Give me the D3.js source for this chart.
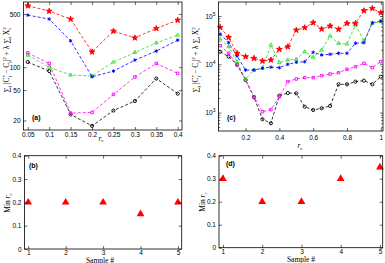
<!DOCTYPE html>
<html>
<head>
<meta charset="utf-8">
<script src="https://cdn.jsdelivr.net/npm/d3@7"></script>
<style>
  body { margin: 0; background: #fff; }
  svg { display: block; }
  .tick text { font-family: "Liberation Sans", Arial, sans-serif; font-size: 6.5px; fill: #000; }
  .lab { font-family: "Liberation Serif", "Times New Roman", serif; font-size: 7.5px; fill: #000; }
  .plab { font-family: "Liberation Sans", Arial, sans-serif; font-size: 7px; font-weight: bold; }
</style>
</head>
<body>
<div id="chart"></div>
<script>
// panel (a): r_c sweep
const rcA = [0.05, 0.1, 0.15, 0.2, 0.25, 0.3, 0.35, 0.4];
const redA = [640, 545, 428, 159, 298, 243, 323, 415];
const blueA = [483, 428, 222, 75, 89, 124, 163, 227];
const greenA = [144, 100, 79, 77, 117, 156, 209, 264];
const magentaA = [154, 112, 25, 25.5, 44, 74.5, 112, 83];
const blackA = [117, 89, 24, 17, 27, 36, 71, 45];
const ticksXA = [0.05, 0.1, 0.15, 0.2, 0.25, 0.3, 0.35, 0.4];
const ticksYA = [20, 50, 100, 500];

// panel (c): r_c sweep
const rcC = [0.05, 0.1, 0.15, 0.2, 0.25, 0.3, 0.35, 0.4, 0.45, 0.5,
             0.55, 0.6, 0.65, 0.7, 0.75, 0.8, 0.85, 0.9, 0.95, 1.0];
const redC = [58000, 36000, 16900, 14400, 13300, 11700, 12300, 20400, 23100, 51000,
              57300, 72600, 53700, 62100, 53100, 70600, 70600, 129000, 144000, 117000];
const blueC = [42300, 28000, 14800, 7600, 7600, 8300, 8700, 8500, 10000, 11000,
               11300, 17700, 15600, 16100, 16900, 16900, 27200, 28000, 72600, 78700];
const greenC = [33400, 23100, 11300, 4900, 7600, 8300, 25100, 10800, 12300, 12700,
                18200, 14000, 19800, 38500, 27200, 26300, 65200, 30800, 70000, 76000];
const magentaC = [24300, 16900, 9700, 4700, 2130, 1040, 1150, 2130, 4370, 4960,
                  5290, 5290, 5800, 6290, 6700, 7870, 8910, 10500, 8510, 11300];
const blackC = [18200, 14400, 9800, 4730, 2080, 726, 600, 2240, 2540, 2500,
                1320, 1130, 1230, 1370, 3850, 3850, 4370, 4580, 3850, 5530];
const ticksXC = [0.2, 0.4, 0.6, 0.8, 1];
const ticksYC = [1000, 10000, 100000];

// panels (b) and (d)
const samples = [1, 2, 3, 4, 5];
const minRcB = [0.2, 0.2, 0.2, 0.15, 0.2];
const minRcD = [0.3, 0.2, 0.2, 0.3, 0.35];
const ticksYMin = [0, 0.1, 0.2, 0.3, 0.4];

const width = 385, height = 263;

const svg = d3.select("#chart").append("svg")
    .attr("width", width)
    .attr("height", height);

// draws box with inward ticks on all four sides
function drawFrame(x, y, xt, yt, opts) {
    const [x0, x1] = x.range();
    const [y1, y0] = y.range();
    const tick = 3;
    svg.append("g")
        .attr("transform", `translate(0,${y1})`)
        .call(d3.axisBottom(x).tickValues(xt).tickSizeInner(-tick).tickSizeOuter(0)
            .tickPadding(opts.xPad || 2).tickFormat(d => d))
        .call(g => g.select(".domain").remove());
    svg.append("g")
        .attr("transform", `translate(0,${y0})`)
        .call(d3.axisTop(x).tickValues(xt).tickSizeInner(-tick).tickSizeOuter(0).tickFormat(""))
        .call(g => g.select(".domain").remove());
    const left = svg.append("g")
        .attr("transform", `translate(${x0},0)`)
        .call(d3.axisLeft(y).tickValues(yt).tickSizeInner(-tick).tickSizeOuter(0)
            .tickPadding(3).tickFormat(d => d))
        .call(g => g.select(".domain").remove());
    svg.append("g")
        .attr("transform", `translate(${x1},0)`)
        .call(d3.axisRight(y).tickValues(yt).tickSizeInner(-tick).tickSizeOuter(0).tickFormat(""))
        .call(g => g.select(".domain").remove());
    if (opts.minor) {
        svg.append("g")
            .attr("transform", `translate(${x0},0)`)
            .call(d3.axisLeft(y).tickValues(opts.minor).tickSizeInner(-1.8).tickSizeOuter(0).tickFormat(""))
            .call(g => g.select(".domain").remove());
        svg.append("g")
            .attr("transform", `translate(${x1},0)`)
            .call(d3.axisRight(y).tickValues(opts.minor).tickSizeInner(-1.8).tickSizeOuter(0).tickFormat(""))
            .call(g => g.select(".domain").remove());
    }
    if (opts.pow) {
        left.selectAll(".tick text").each(function(d) {
            const t = d3.select(this).text("10");
            t.append("tspan").attr("dy", -3).attr("font-size", 5).text(Math.round(Math.log10(d)));
        });
    }
    svg.selectAll(".tick line").attr("stroke", "#000").attr("stroke-width", 0.6);
    svg.append("rect")
        .attr("x", x0).attr("y", y0)
        .attr("width", x1 - x0).attr("height", y1 - y0)
        .attr("fill", "none").attr("stroke", "#000").attr("stroke-width", 0.8);
}

function drawSeries(g, x, y, xs, ys, st) {
    const pts = xs.map((v, i) => [v, ys[i]]);
    g.append("path")
        .datum(pts)
        .attr("fill", "none")
        .attr("stroke", st.color)
        .attr("stroke-width", 0.8)
        .attr("stroke-dasharray", "3,2")
        .attr("d", d3.line().x(d => x(d[0])).y(d => y(d[1])));
    g.selectAll(null).data(pts).enter().append("path")
        .attr("transform", d => `translate(${x(d[0])},${y(d[1])})`)
        .attr("d", d3.symbol().type(st.sym).size(st.size))
        .attr("fill", st.filled ? st.color : "none")
        .attr("stroke", st.color)
        .attr("stroke-width", 0.9);
}

function yLabel(cx, cy) {
    const t = svg.append("text")
        .attr("class", "lab")
        .attr("transform", `translate(${cx},${cy}) rotate(-90)`)
        .attr("text-anchor", "middle")
        .attr("fill", "#444");
    t.append("tspan").text("∑");
    t.append("tspan").attr("font-size", 5).attr("dy", 2).text("j");
    t.append("tspan").attr("dy", -2).text(" |C");
    t.append("tspan").attr("font-size", 5).attr("dy", -3).text("*");
    t.append("tspan").attr("font-size", 5).attr("dx", -2).attr("dy", 5).text("j");
    t.append("tspan").attr("dy", -2).text(" − C");
    t.append("tspan").attr("font-size", 5).attr("dy", 2).text("j");
    t.append("tspan").attr("dy", -2).text("|");
    t.append("tspan").attr("font-size", 5).attr("dy", -3).text("2");
    t.append("tspan").attr("dy", 3).text(" + λ ∑");
    t.append("tspan").attr("font-size", 5).attr("dy", 2).text("i");
    t.append("tspan").attr("dy", -2).text(" X");
    t.append("tspan").attr("font-size", 5).attr("dy", -3).text("2");
    t.append("tspan").attr("font-size", 5).attr("dx", -2.5).attr("dy", 5).text("i");
}

function rcLabel(cx, cy, sub) {
    const t = svg.append("text").attr("class", "lab")
        .attr("x", cx).attr("y", cy).attr("text-anchor", "middle");
    t.append("tspan").attr("font-style", "italic").text("r");
    t.append("tspan").attr("font-size", 5).attr("dy", 1.5).text(sub);
}

function minLabel(cx, cy) {
    const t = svg.append("text").attr("class", "lab")
        .attr("transform", `translate(${cx},${cy}) rotate(-90)`)
        .attr("text-anchor", "middle");
    t.append("tspan").text("Min ");
    t.append("tspan").attr("font-style", "italic").text("r");
    t.append("tspan").attr("font-size", 5).attr("dy", 1.5).text("c");
}

const redSt = { color: "#ff0000", sym: d3.symbolStar, filled: true, size: 10 };
const blueSt = { color: "#0000ff", sym: d3.symbolAsterisk, filled: false, size: 9 };
const greenSt = { color: "#22dd22", sym: d3.symbolTriangle2, filled: false, size: 9 };
const magentaSt = { color: "#ff00ff", sym: d3.symbolSquare2, filled: false, size: 8 };
const blackSt = { color: "#000000", sym: d3.symbolCircle, filled: false, size: 8 };

// ---- panel (a)
const xA = d3.scaleLinear().domain([0.04, 0.41]).range([23.5, 182]);
const yA = d3.scaleLog().domain([15, 718]).range([130, 2]);
const gA = svg.append("g");
drawSeries(gA, xA, yA, rcA, blackA, blackSt);
drawSeries(gA, xA, yA, rcA, magentaA, magentaSt);
drawSeries(gA, xA, yA, rcA, greenA, greenSt);
drawSeries(gA, xA, yA, rcA, blueA, blueSt);
drawSeries(gA, xA, yA, rcA, redA, redSt);
drawFrame(xA, yA, ticksXA, ticksYA, { xPad: 2 });
yLabel(9, 60);
rcLabel(101, 140.5, "c");
svg.append("text").attr("class", "plab").attr("x", 32).attr("y", 120).text("(a)");

// ---- panel (c)
const xC = d3.scaleLinear().domain([0.04, 1.013]).range([218.5, 383]);
const yC = d3.scaleLog().domain([415, 195000]).range([131, 2]);
const minorC = [];
[100, 1000, 10000, 100000].forEach(dec => {
    [2, 3, 4, 5, 6, 7, 8, 9].forEach(k => {
        const v = k * dec;
        if (v > 415 && v < 195000) minorC.push(v);
    });
});
const gC = svg.append("g");
drawSeries(gC, xC, yC, rcC, blackC, blackSt);
drawSeries(gC, xC, yC, rcC, magentaC, magentaSt);
drawSeries(gC, xC, yC, rcC, greenC, greenSt);
drawSeries(gC, xC, yC, rcC, blueC, blueSt);
drawSeries(gC, xC, yC, rcC, redC, redSt);
drawFrame(xC, yC, ticksXC, ticksYC, { xPad: 4, pow: true, minor: minorC });
yLabel(198, 60);
rcLabel(300, 148, "c");
svg.append("text").attr("class", "plab").attr("x", 227).attr("y", 120).text("(c)");

// ---- panel (b)
const xB = d3.scaleLinear().domain([0.9, 5.1]).range([24.5, 181.7]);
const yB = d3.scaleLinear().domain([0, 0.4]).range([249, 155.7]);
svg.append("g").selectAll(null).data(samples).enter().append("path")
    .attr("transform", (d, i) => `translate(${xB(d)},${yB(minRcB[i])})`)
    .attr("d", d3.symbol().type(d3.symbolTriangle).size(26))
    .attr("fill", "#ff0000");
drawFrame(xB, yB, samples, ticksYMin, { xPad: 1.5 });
minLabel(10, 203);
svg.append("text").attr("class", "lab").attr("x", 100).attr("y", 262.5)
    .attr("font-size", 7).attr("text-anchor", "middle").text("Sample #");
svg.append("text").attr("class", "plab").attr("x", 29).attr("y", 168).text("(b)");

// ---- panel (d)
const xD = d3.scaleLinear().domain([0.9, 5.07]).range([219, 382.7]);
const yD = d3.scaleLinear().domain([0, 0.4]).range([247.7, 155.7]);
svg.append("g").selectAll(null).data(samples).enter().append("path")
    .attr("transform", (d, i) => `translate(${xD(d)},${yD(minRcD[i])})`)
    .attr("d", d3.symbol().type(d3.symbolTriangle).size(26))
    .attr("fill", "#ff0000");
drawFrame(xD, yD, samples, ticksYMin, { xPad: 1.5 });
minLabel(205, 202);
svg.append("text").attr("class", "lab").attr("x", 301).attr("y", 261.5)
    .attr("font-size", 7).attr("text-anchor", "middle").text("Sample #");
svg.append("text").attr("class", "plab").attr("x", 226).attr("y", 166).text("(d)");
</script>
</body>
</html>
